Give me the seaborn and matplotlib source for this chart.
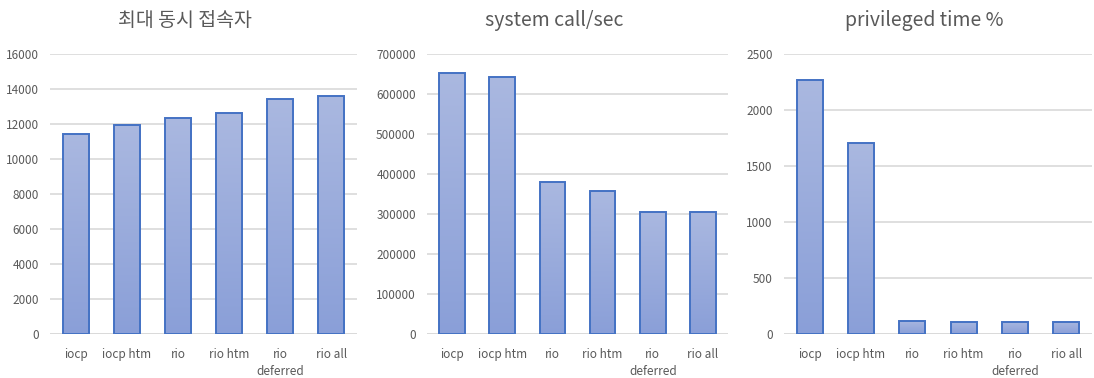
import numpy as np
import pandas as pd
import matplotlib
matplotlib.use("Agg")
import matplotlib.pyplot as plt
import seaborn as sns
from matplotlib.colors import LinearSegmentedColormap

categories = ["iocp", "iocp htm", "rio", "rio htm", "rio\ndeferred", "rio all"]
max_connections = [11450, 11950, 12350, 12650, 13450, 13620]
syscalls_per_sec = [651500, 641500, 381000, 357500, 306000, 306000]
privileged_time = [2265, 1705, 120, 108, 108, 108]

titles = ["최대 동시 접속자", "system call/sec", "privileged time %"]
y_limits = [16000, 700000, 2500]
y_steps = [2000, 100000, 500]

sns.set_theme(style="white")
plt.rcParams["font.family"] = ["Noto Sans CJK KR", "DejaVu Sans"]

TEXT = "#595959"
GRID = "#d9d9d9"
EDGE = "#4472c4"
grad = LinearSegmentedColormap.from_list("bar_grad", ["#8a9fd8", "#aab8e0"])

fig = plt.figure(figsize=(10.94, 3.78), dpi=100)
boxes = [
    (0.0457, 0.1164, 0.2806, 0.7407),
    (0.3903, 0.1164, 0.2752, 0.7407),
    (0.7166, 0.1164, 0.2816, 0.7407),
]
# title centres span the whole chart area, including the value labels
title_x = [0.169, 0.507, 0.845]
series = [max_connections, syscalls_per_sec, privileged_time]

for box, values, title, tx, ymax, step in zip(boxes, series, titles, title_x,
                                              y_limits, y_steps):
    ax = fig.add_axes(box)
    df = pd.DataFrame({"category": categories, "value": values})
    sns.barplot(data=df, x="category", y="value", ax=ax, width=0.51,
                color="#9aabdc", edgecolor=EDGE, linewidth=1.4, zorder=3)
    # vertical gradient fill clipped to each bar
    gradient = np.linspace(0, 1, 256).reshape(-1, 1)
    for patch in ax.patches:
        x0, y0 = patch.get_x(), patch.get_y()
        w, h = patch.get_width(), patch.get_height()
        im = ax.imshow(gradient, cmap=grad, aspect="auto", origin="lower",
                       extent=[x0, x0 + w, y0, y0 + h], zorder=3.5,
                       interpolation="bilinear")
        im.set_clip_path(patch)
        patch.set_facecolor("none")
        patch.set_zorder(4)
    ax.set_xlim(-0.5, len(categories) - 0.5)
    ax.set_ylim(0, ymax)
    ax.set_yticks(np.arange(0, ymax + step / 2, step))
    ax.yaxis.grid(True, color=GRID, linewidth=1.2, zorder=0)
    ax.set_axisbelow(True)
    for s in ax.spines.values():
        s.set_visible(False)
    ax.axhline(0, color=GRID, linewidth=1.2, zorder=2)
    ax.set_xlabel("")
    ax.set_ylabel("")
    ax.tick_params(axis="both", length=0, colors=TEXT, labelsize=8.5)
    ax.tick_params(axis="x", pad=10)
    ax.tick_params(axis="y", pad=8)
    for lbl in ax.get_xticklabels():
        lbl.set_linespacing(1.4)
        lbl.set_verticalalignment("top")
    fig.text(tx, 0.947, title, color=TEXT, fontsize=14, ha="center", va="center")

fig.savefig("out.png", dpi=100)
